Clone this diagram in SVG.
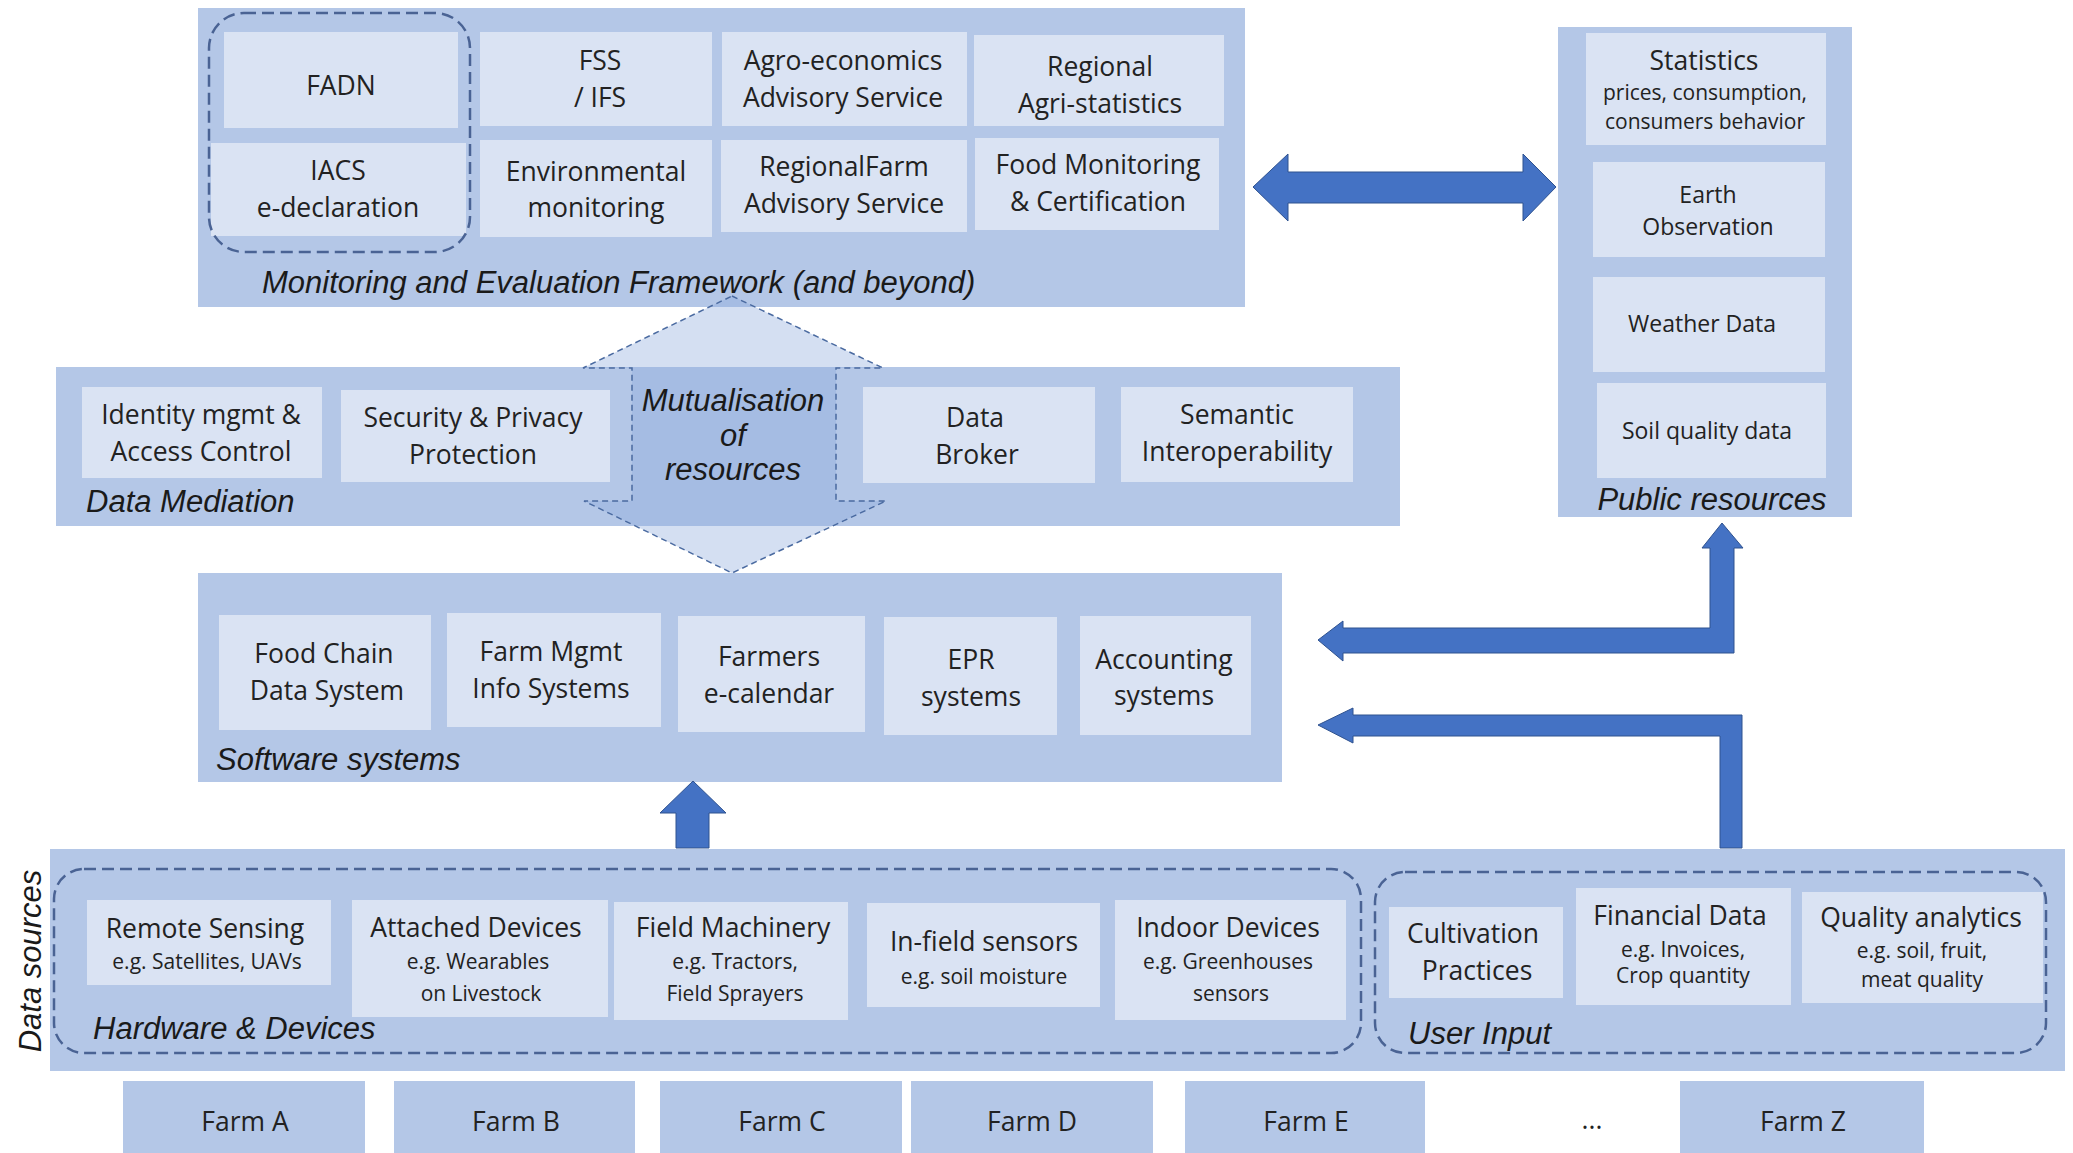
<svg xmlns="http://www.w3.org/2000/svg" width="2073" height="1153" viewBox="0 0 2073 1153">
<style>
.panel{fill:#b4c7e7}
.box{fill:#dae3f3}
.farm{fill:#b4c7e7}
.t{font-family:"Open Sans","Liberation Sans",sans-serif;font-size:26.5px;fill:#222;text-anchor:middle}
.s{font-family:"Open Sans","Liberation Sans",sans-serif;font-size:21px;fill:#222;text-anchor:middle}
.w{font-family:"Open Sans","Liberation Sans",sans-serif;font-size:23px;fill:#222;text-anchor:middle}
.lbl{font-family:"Liberation Sans",Arial,sans-serif;font-style:italic;font-size:31px;fill:#1a1a1a}
.grp{fill:none;stroke:#4a6394;stroke-width:2.5;stroke-dasharray:12 6}
.arrow{fill:#4472c4;stroke:#2f528f;stroke-width:1}
.mut{fill:#8faadc;fill-opacity:0.38;stroke:#4a6aa0;stroke-width:1.5;stroke-dasharray:6 4}
</style>

<!-- panels -->
<g id="panel-monitoring">
<rect class="panel" x="198" y="8" width="1047" height="299"/>
<text class="lbl" x="262" y="293" font-size="32">Monitoring and Evaluation Framework (and beyond)</text>
</g>
<g id="panel-public">
<rect class="panel" x="1558" y="27" width="294" height="490"/>
<text class="lbl" x="1712" y="510" text-anchor="middle">Public resources</text>
</g>
<g id="panel-mediation">
<rect class="panel" x="56" y="367" width="1344" height="159"/>
<text class="lbl" x="86" y="512">Data Mediation</text>
</g>
<g id="panel-software">
<rect class="panel" x="198" y="573" width="1084" height="209"/>
<text class="lbl" x="216" y="770">Software systems</text>
</g>
<g id="panel-datasources">
<rect class="panel" x="50" y="849" width="2015" height="222"/>
<text class="lbl" transform="translate(41,961) rotate(-90)" text-anchor="middle">Data sources</text>
</g>

<!-- Monitoring boxes -->
<g id="fadn"><rect class="box" x="224" y="32" width="234" height="96"/><text class="t" x="341" y="95">FADN</text></g>
<g id="iacs"><rect class="box" x="211" y="143" width="255" height="93"/><text class="t" x="338" y="180">IACS</text><text class="t" x="338" y="217">e-declaration</text></g>
<g id="fss"><rect class="box" x="480" y="32" width="232" height="94"/><text class="t" x="600" y="70">FSS</text><text class="t" x="600" y="107">/ IFS</text></g>
<g id="env"><rect class="box" x="480" y="140" width="232" height="97"/><text class="t" x="596" y="181">Environmental</text><text class="t" x="596" y="217">monitoring</text></g>
<g id="agro"><rect class="box" x="722" y="32" width="245" height="94"/><text class="t" x="843" y="70">Agro-economics</text><text class="t" x="843" y="107">Advisory Service</text></g>
<g id="regfarm"><rect class="box" x="721" y="140" width="246" height="92"/><text class="t" x="844" y="176">RegionalFarm</text><text class="t" x="844" y="213">Advisory Service</text></g>
<g id="regagri"><rect class="box" x="974" y="35" width="250" height="91"/><text class="t" x="1100" y="76">Regional</text><text class="t" x="1100" y="113">Agri-statistics</text></g>
<g id="foodmon"><rect class="box" x="975" y="138" width="244" height="92"/><text class="t" x="1098" y="174">Food Monitoring</text><text class="t" x="1098" y="211">&amp; Certification</text></g>
<g id="grp-fadn-iacs"><rect class="grp" x="209" y="13" width="261" height="239" rx="35"/></g>

<!-- Public boxes -->
<g id="statistics"><rect class="box" x="1586" y="33" width="240" height="112"/><text class="t" x="1704" y="70">Statistics</text><text class="s" x="1705" y="100">prices, consumption,</text><text class="s" x="1705" y="129">consumers behavior</text></g>
<g id="earth"><rect class="box" x="1593" y="162" width="232" height="95"/><text class="w" x="1708" y="203">Earth</text><text class="w" x="1708" y="235">Observation</text></g>
<g id="weather"><rect class="box" x="1593" y="277" width="232" height="95"/><text class="w" x="1702" y="332">Weather Data</text></g>
<g id="soil"><rect class="box" x="1597" y="383" width="229" height="95"/><text class="w" x="1707" y="439">Soil quality data</text></g>

<!-- Mediation boxes -->
<g id="identity"><rect class="box" x="82" y="387" width="240" height="91"/><text class="t" x="201" y="424">Identity mgmt &amp;</text><text class="t" x="201" y="461">Access Control</text></g>
<g id="security"><rect class="box" x="341" y="390" width="269" height="92"/><text class="t" x="473" y="427">Security &amp; Privacy</text><text class="t" x="473" y="464">Protection</text></g>
<g id="broker"><rect class="box" x="863" y="387" width="232" height="96"/><text class="t" x="975" y="427">Data</text><text class="t" x="977" y="464">Broker</text></g>
<g id="semantic"><rect class="box" x="1121" y="387" width="232" height="95"/><text class="t" x="1237" y="424">Semantic</text><text class="t" x="1237" y="461">Interoperability</text></g>

<!-- Software boxes -->
<g id="foodchain"><rect class="box" x="219" y="615" width="212" height="115"/><text class="t" x="324" y="663">Food Chain</text><text class="t" x="327" y="700">Data System</text></g>
<g id="farmmgmt"><rect class="box" x="447" y="613" width="214" height="114"/><text class="t" x="551" y="661">Farm Mgmt</text><text class="t" x="551" y="698">Info Systems</text></g>
<g id="ecalendar"><rect class="box" x="678" y="616" width="187" height="116"/><text class="t" x="769" y="666">Farmers</text><text class="t" x="769" y="703">e-calendar</text></g>
<g id="epr"><rect class="box" x="884" y="617" width="173" height="118"/><text class="t" x="971" y="669">EPR</text><text class="t" x="971" y="706">systems</text></g>
<g id="accounting"><rect class="box" x="1080" y="616" width="171" height="119"/><text class="t" x="1164" y="669">Accounting</text><text class="t" x="1164" y="705">systems</text></g>

<!-- Hardware boxes -->
<g id="remote"><rect class="box" x="87" y="900" width="244" height="85"/><text class="t" x="205" y="938">Remote Sensing</text><text class="s" x="207" y="969" font-size="22">e.g. Satellites, UAVs</text></g>
<g id="attached"><rect class="box" x="352" y="900" width="256" height="117"/><text class="t" x="476" y="937">Attached Devices</text><text class="s" x="478" y="969" font-size="22">e.g. Wearables</text><text class="s" x="481" y="1001" font-size="22">on Livestock</text></g>
<g id="fieldmach"><rect class="box" x="614" y="902" width="234" height="118"/><text class="t" x="733" y="937">Field Machinery</text><text class="s" x="735" y="969" font-size="22">e.g. Tractors,</text><text class="s" x="735" y="1001" font-size="22">Field Sprayers</text></g>
<g id="infield"><rect class="box" x="867" y="903" width="233" height="104"/><text class="t" x="984" y="951">In-field sensors</text><text class="s" x="984" y="984" font-size="22">e.g. soil moisture</text></g>
<g id="indoor"><rect class="box" x="1115" y="900" width="231" height="120"/><text class="t" x="1228" y="937">Indoor Devices</text><text class="s" x="1228" y="969" font-size="22">e.g. Greenhouses</text><text class="s" x="1231" y="1001" font-size="22">sensors</text></g>
<g id="grp-hardware"><rect class="grp" x="54" y="869" width="1307" height="184" rx="30"/><text class="lbl" x="93" y="1039">Hardware &amp; Devices</text></g>

<!-- User input boxes -->
<g id="cultivation"><rect class="box" x="1389" y="907" width="174" height="91"/><text class="t" x="1473" y="943">Cultivation</text><text class="t" x="1477" y="980">Practices</text></g>
<g id="financial"><rect class="box" x="1576" y="888" width="215" height="117"/><text class="t" x="1680" y="925">Financial Data</text><text class="s" x="1683" y="957">e.g. Invoices,</text><text class="s" x="1683" y="983">Crop quantity</text></g>
<g id="quality"><rect class="box" x="1802" y="892" width="241" height="111"/><text class="t" x="1921" y="927">Quality analytics</text><text class="s" x="1922" y="958">e.g. soil, fruit,</text><text class="s" x="1922" y="987">meat quality</text></g>
<g id="grp-userinput"><rect class="grp" x="1375" y="872" width="671" height="181" rx="30"/><text class="lbl" x="1408" y="1044" font-size="30">User Input</text></g>

<!-- Farms -->
<g id="farm-a"><rect class="farm" x="123" y="1081" width="242" height="72"/><text class="t" x="245" y="1131">Farm A</text></g>
<g id="farm-b"><rect class="farm" x="394" y="1081" width="241" height="72"/><text class="t" x="516" y="1131">Farm B</text></g>
<g id="farm-c"><rect class="farm" x="660" y="1081" width="242" height="72"/><text class="t" x="782" y="1131">Farm C</text></g>
<g id="farm-d"><rect class="farm" x="911" y="1081" width="242" height="72"/><text class="t" x="1032" y="1131">Farm D</text></g>
<g id="farm-e"><rect class="farm" x="1185" y="1081" width="240" height="72"/><text class="t" x="1306" y="1131">Farm E</text></g>
<g id="farm-dots"><text class="t" x="1592" y="1129">...</text></g>
<g id="farm-z"><rect class="farm" x="1680" y="1081" width="244" height="72"/><text class="t" x="1803" y="1131">Farm Z</text></g>

<!-- connectors -->
<g id="connectors">
<g id="mutualisation">
<polygon class="mut" points="732,296 883,368 836,368 836,501 886,501 732,573 584,501 632,501 632,368 583,368"/>
<text class="lbl" x="733" y="411" text-anchor="middle" font-size="25.5">Mutualisation</text>
<text class="lbl" x="733" y="446" text-anchor="middle" font-size="25.5">of</text>
<text class="lbl" x="733" y="480" text-anchor="middle" font-size="25.5">resources</text>
</g>
<polygon class="arrow" points="1253,187 1288,154 1288,172 1523,172 1523,154 1556,187 1523,221 1523,203 1288,203 1288,221"/>
<polygon class="arrow" points="1318,640 1343,621 1343,628 1710,628 1710,548 1702,548 1722,523 1743,548 1734,548 1734,653 1343,653 1343,661"/>
<polygon class="arrow" points="1318,725 1353,708 1353,715 1742,715 1742,848 1720,848 1720,736 1353,736 1353,743"/>
<polygon class="arrow" points="693,781 726,813 709,813 709,848 676,848 676,813 660,813"/>
</g>
</svg>
